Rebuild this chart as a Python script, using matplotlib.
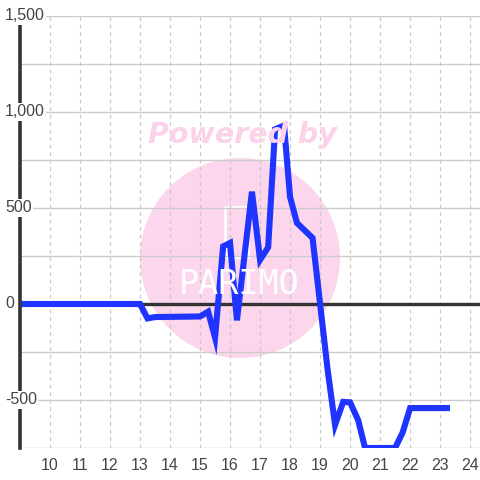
import matplotlib.pyplot as plt
from matplotlib.patches import Circle
from matplotlib.transforms import blended_transform_factory

plt.rcParams['font.family'] = ['Liberation Sans', 'DejaVu Sans']

# values
hours = [9.0, 13.0, 13.25, 13.5, 15.0, 15.27, 15.5, 15.77, 16.0, 16.23,
         16.73, 17.0, 17.27, 17.5, 17.8, 18.0, 18.23, 18.75, 19.25, 19.5,
         19.77, 20.0, 20.27, 20.5, 21.5, 21.75, 22.0, 23.33]
values = [0, 0, -75, -68, -65, -40, -175, 300, 318, -85,
          585, 230, 295, 910, 930, 557, 422, 344, -340, -630,
          -510, -512, -605, -750, -750, -670, -542, -542]
x_ticks = list(range(10, 25))
y_ticks = [1500, 1000, 500, 0, -500]
y_grid = [1500, 1250, 1000, 750, 500, 250, 0, -250, -500, -750]

fig = plt.figure(figsize=(4.8, 4.8), dpi=100, facecolor='white')
ax = fig.add_axes([20/480, 32/480, 460/480, 432/480])
ax.set_xlim(9, 24.33)
ax.set_ylim(-750, 1500)

for s in ['top', 'right', 'bottom']:
    ax.spines[s].set_visible(False)
ax.spines['left'].set_color('#333333')
ax.spines['left'].set_linewidth(2.6)
ax.spines['left'].set_zorder(4)

# grid
for g in y_grid:
    ax.axhline(g, color='#cccccc', lw=1, zorder=1)
for t in x_ticks:
    ax.axvline(t, color='#c8c8c8', lw=0.9, ls=(0, (3, 3)), zorder=1)

# watermark
ax.add_patch(Circle((240/480, (480-258)/480), 100/480, transform=fig.transFigure,
                    facecolor='#fbd6ec', edgecolor='none', zorder=0.2))
fig.text(242/480, (480-135)/480, 'Powered by', color='#fbd2ea', fontsize=20.5,
         fontweight='bold', style='italic', family='DejaVu Sans',
         ha='center', va='center', zorder=0.3)
ax.add_patch(plt.Rectangle((225/480, (480-257)/480), 23/480, 50/480, transform=fig.transFigure,
                           facecolor='none', edgecolor='white', lw=2, zorder=0.3))
fig.text(239/480, (480-285)/480, 'PARIMO', color='white', fontsize=24,
         family='DejaVu Sans Mono', ha='center', va='center', zorder=0.3)

ax.axhline(0, color='#333333', lw=2.4, zorder=2)
ax.plot(hours, values, color='#1f35ff', lw=4.4, solid_joinstyle='miter',
        solid_capstyle='butt', zorder=3)

ax.set_yticks([])
ax.set_xticks(x_ticks)
ax.set_xticklabels([str(t) for t in x_ticks], fontsize=11.5, color='#444444')
ax.tick_params(axis='x', length=0, pad=7)

tr = blended_transform_factory(fig.transFigure, ax.transData)
for v in y_ticks:
    ax.text(5/480, v, f'{v:,}', transform=tr, ha='left', va='center', fontsize=11.5,
            color='#444444', zorder=5, clip_on=False,
            bbox=dict(facecolor='white', edgecolor='none', pad=1))

fig.savefig('out.png', dpi=100, facecolor='white')
